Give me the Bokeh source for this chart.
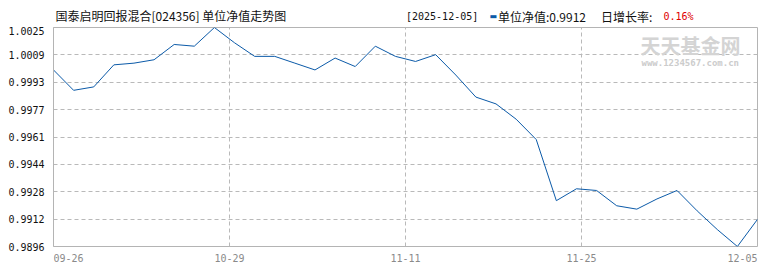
from bokeh.plotting import figure
from bokeh.layouts import column
from bokeh.models import Label, FixedTicker, CustomJSTickFormatter, Range1d
from bokeh.core.properties import value
from bokeh.embed import file_html
from bokeh.resources import INLINE

# ---- data ----
nav = [1.0000, 0.9988, 0.9990, 1.0003, 1.0004, 1.0006, 1.0015, 1.0014, 1.0025,
       1.0016, 1.0008, 1.0008, 1.0004, 1.0000, 1.0007, 1.0002, 1.0014, 1.0008,
       1.0005, 1.0009, 0.9997, 0.9984, 0.9980, 0.9971, 0.9959, 0.9923, 0.9930,
       0.9929, 0.9920, 0.9918, 0.9924, 0.9929, 0.9917, 0.9906, 0.9896, 0.9912]
x_tick_labels = ["09-26", "10-29", "11-11", "11-25", "12-05"]
y_tick_labels = ["0.9896", "0.9912", "0.9928", "0.9944", "0.9961",
                 "0.9977", "0.9993", "1.0009", "1.0025"]
title_text = "国泰启明回报混合[024356] 单位净值走势图"
latest_date = "[2025-12-05]"
latest_nav_text = "单位净值:0.9912"
growth_label = "日增长率:"
growth_value = "0.16%"
watermark = "天天基金网"
watermark_url = "www.1234567.com.cn"

n = len(nav)
xs = list(range(n))
ymin, ymax = min(nav), max(nav)
ystep = (ymax - ymin) / (len(y_tick_labels) - 1)
y_ticks = [ymin + k * ystep for k in range(len(y_tick_labels))]
x_tick_pos = [k * (n - 1) / (len(x_tick_labels) - 1) for k in range(len(x_tick_labels))]

W = 770
LEFT, RIGHT = 53, 13
HEADER_H = 26
MAIN_TOP, MAIN_BOTTOM = 1, 6
MAIN_H = MAIN_TOP + 219 + MAIN_BOTTOM     # frame 27..246 on the page
FOOTER_H = 270 - HEADER_H - MAIN_H
FOOTER_Y0 = HEADER_H + MAIN_H
CJK = value("Noto Sans CJK SC")
MONO = value("DejaVu Sans Mono")


def bare(height, x_range, y_range):
    f = figure(width=W, height=height, output_backend="svg", toolbar_location=None,
               title=None, x_range=x_range, y_range=y_range,
               min_border_left=LEFT, min_border_right=RIGHT,
               min_border_top=0, min_border_bottom=0)
    f.axis.visible = False
    f.grid.visible = False
    f.outline_line_color = None
    f.background_fill_color = "white"
    f.border_fill_color = "white"
    return f


# ---------------- header (page pixels, y downwards) ----------------
hdr = bare(HEADER_H, Range1d(LEFT, W - RIGHT), Range1d(HEADER_H, 0))


def htext(x, y, txt, font=CJK, size="12px", color="#111111"):
    hdr.text(x=[x], y=[y], text=[txt], text_font=font, text_font_size=size,
             text_color=color, text_baseline="middle", text_align="left")


htext(55, 14.5, title_text)
htext(405.5, 15.5, latest_date, font=MONO, size="10px")
htext(489, 15.5, "▬", font=value("DejaVu Sans"), size="8px", color="#0b5aa8")
htext(497.5, 15.5, latest_nav_text)
htext(600.5, 15.5, growth_label)
htext(663, 15.5, growth_value, font=MONO, size="10px", color="#e00000")

# ---------------- main chart ----------------
p = figure(width=W, height=MAIN_H, output_backend="svg", toolbar_location=None,
           title=None,
           x_range=Range1d(0, n - 1), y_range=Range1d(ymin, ymax),
           min_border_left=LEFT, min_border_right=RIGHT, min_border_top=MAIN_TOP,
           min_border_bottom=MAIN_BOTTOM)
p.background_fill_color = "white"
p.border_fill_color = "white"
p.outline_line_color = "#b4b4b4"
p.outline_line_width = 1

grid_color = "#b9b9b9"
p.ygrid.ticker = FixedTicker(ticks=y_ticks)
p.ygrid.grid_line_color = grid_color
p.ygrid.grid_line_dash = "4 3"
p.xgrid.ticker = FixedTicker(ticks=x_tick_pos[1:-1])
p.xgrid.grid_line_color = grid_color
p.xgrid.grid_line_dash = "4 3"

p.xaxis.visible = False

p.yaxis.ticker = FixedTicker(ticks=y_ticks)
p.yaxis.formatter = CustomJSTickFormatter(
    args=dict(labels=y_tick_labels, lo=ymin, step=ystep),
    code="return labels[Math.round((tick - lo) / step)];")
p.yaxis.axis_line_color = "#b4b4b4"
p.yaxis.major_tick_line_color = None
p.yaxis.minor_tick_line_color = None
p.yaxis.major_label_standoff = 3
p.yaxis.major_label_text_font = "DejaVu Sans Mono"
p.yaxis.major_label_text_font_size = "10px"
p.yaxis.major_label_text_color = "#111111"

p.line(xs, nav, line_color="#0b5aa8", line_width=1)

FRAME_BOTTOM = 246


def lab(text, xpx, ypx, font="Noto Sans CJK SC", size="12px", color="#111111",
        style="normal"):
    return Label(x=xpx - LEFT, y=FRAME_BOTTOM - ypx, x_units="screen", y_units="screen",
                 text=text, text_align="left", text_baseline="middle",
                 text_font=font, text_font_size=size, text_color=color,
                 text_font_style=style)


p.add_layout(lab(watermark, 640, 45, size="20px", color="#d4d4d4", style="bold"))
p.add_layout(lab(watermark_url, 641, 62, font="DejaVu Sans Mono", size="9px",
                 color="#cccccc", style="bold"))

# ---------------- footer: x tick labels on the shared x scale ----------------
ftr = bare(FOOTER_H, p.x_range, Range1d(FOOTER_H, 0))
aligns = ["left"] + ["center"] * (len(x_tick_labels) - 2) + ["right"]
for pos, txt, al in zip(x_tick_pos, x_tick_labels, aligns):
    ftr.text(x=[pos], y=[257.5 - FOOTER_Y0], text=[txt], text_font=MONO,
             text_font_size="10px", text_color="#8a8a8a", text_baseline="middle",
             text_align=al)

layout = column(hdr, p, ftr, spacing=0)
open("out.html", "w").write(file_html(layout, INLINE))
